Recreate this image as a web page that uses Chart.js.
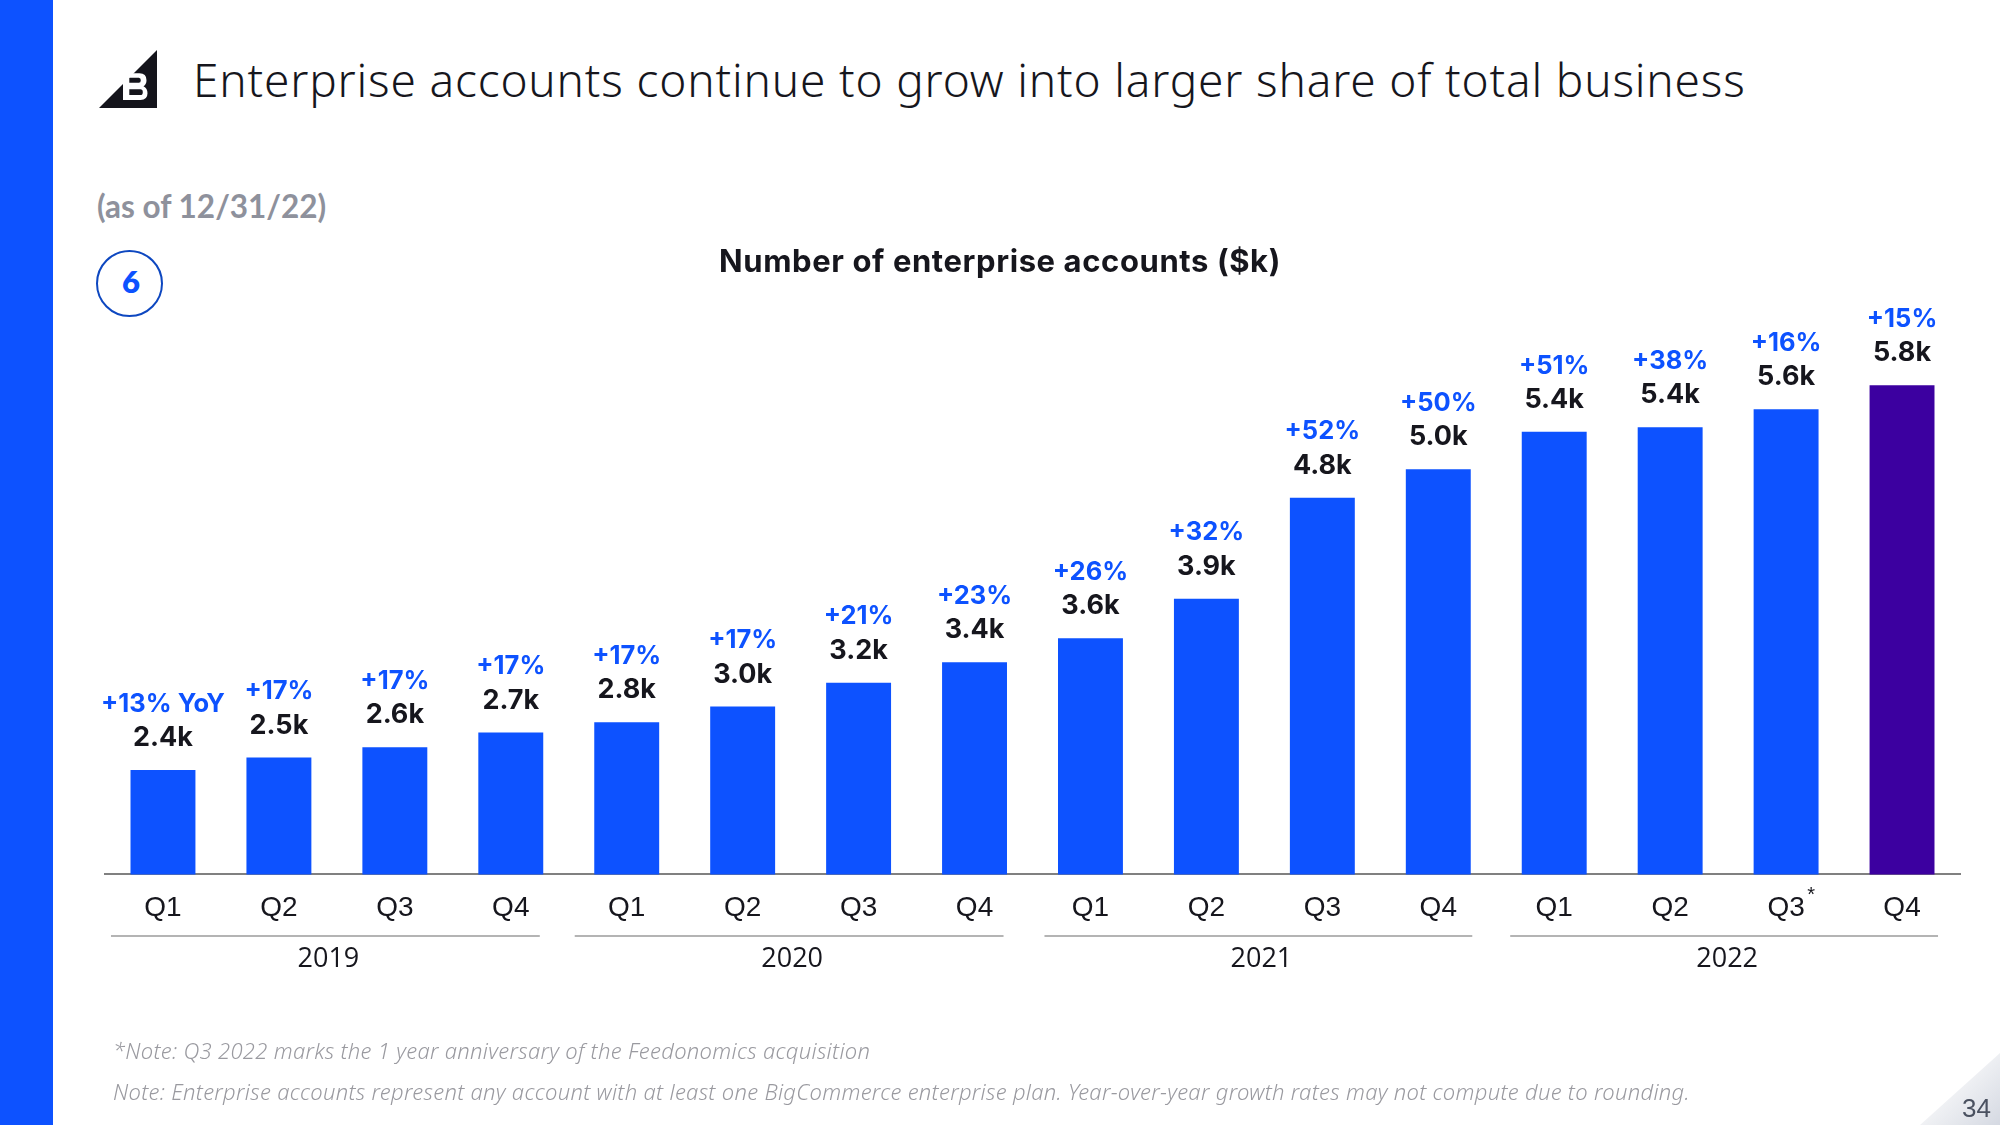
<!DOCTYPE html>
<html>
<head>
<meta charset="utf-8">
<title>Enterprise accounts</title>
<script src="https://cdn.jsdelivr.net/npm/chart.js@4"></script>
<style>
  html, body { margin: 0; padding: 0; background: #fff; }
  body { width: 2000px; height: 1125px; position: relative; overflow: hidden; }
  #myChart { position: absolute; left: 0; top: 0; }
  .band { position: absolute; left: 0; top: 0; width: 53px; height: 1125px; background: #0d52ff; }
  .txt { position: absolute; white-space: nowrap; line-height: 1; }
  #head { left: 193px; top: 48px; font: 300 46px "Noto Sans", sans-serif; color: #16161d; letter-spacing: .83px; }
  #asof { left: 97px; top: 187px; font: 700 31.5px Lato, sans-serif; color: #8e919c; }
  #ring { position: absolute; left: 96px; top: 250px; width: 63px; height: 63px; border: 2.5px solid #0d47c0; border-radius: 50%; }
  #six { left: 97px; width: 68px; text-align: center; top: 262px; font: 800 31px Lato, sans-serif; color: #0d52ff; }
  .note { left: 113px; font: italic 300 22px "Noto Sans", sans-serif; color: #9a9aa0; letter-spacing: .3px; }
  #note1 { top: 1035px; }
  #note2 { top: 1076px; }
  #corner { position: absolute; right: 0; bottom: 0; width: 80px; height: 72px; background: linear-gradient(135deg, #f4f5f7 40%, #d5d9e2 100%); clip-path: polygon(100% 0, 100% 100%, 0 100%); }
  #page { left: 1962px; top: 1093px; font: 26px "Liberation Sans", sans-serif; color: #4a5160; }
  #logo { position: absolute; left: 99px; top: 50px; }
</style>
</head>
<body>
<div class="band"></div>
<svg id="logo" width="58" height="58" viewBox="0 0 58 58">
  <polygon points="58,0 58,58 0,58" fill="#14141b"/>
  <path d="M24 23.300h16.500q7 0 7 7 0 4-3 6 4 2 4 7 0 6.700-7 6.700H24z M30.300 27.700v5h9.500q2 0 2-2.500t-2-2.500z M30.300 39.300v5.700h11q2.500 0 2.500-2.850t-2.500-2.850z" fill="#fff" fill-rule="evenodd"/>
</svg>
<div class="txt" id="head">Enterprise accounts continue to grow into larger share of total business</div>
<div class="txt" id="asof">(as of 12/31/22)</div>
<div id="ring"></div>
<div class="txt" id="six">6</div>
<canvas id="myChart" width="2000" height="1125"></canvas>
<div class="txt note" id="note1">*Note: Q3 2022 marks the 1 year anniversary of the Feedonomics acquisition</div>
<div class="txt note" id="note2">Note: Enterprise accounts represent any account with at least one BigCommerce enterprise plan. Year-over-year growth rates may not compute due to rounding.</div>
<div id="corner"></div>
<div class="txt" id="page">34</div>
<script>
const quarters = ['Q1','Q2','Q3','Q4','Q1','Q2','Q3','Q4','Q1','Q2','Q3','Q4','Q1','Q2','Q3','Q4'];
const accounts = [2.41,2.52,2.61,2.74,2.83,2.97,3.18,3.36,3.57,3.92,4.81,5.06,5.39,5.43,5.59,5.80];
const accountLabels = ['2.4k','2.5k','2.6k','2.7k','2.8k','3.0k','3.2k','3.4k','3.6k','3.9k','4.8k','5.0k','5.4k','5.4k','5.6k','5.8k'];
const growthLabels = ['+13% YoY','+17%','+17%','+17%','+17%','+17%','+21%','+23%','+26%','+32%','+52%','+50%','+51%','+38%','+16%','+15%'];
const years = ['2019','2020','2021','2022'];
const yearFirstBar = [0,4,8,12];
const starredBar = 14;
const chartTitle = 'Number of enterprise accounts ($k)';

const BLUE = '#0d52ff';
const PURPLE = '#3c00a0';

// growth and value labels above the bars, year brackets below the axis
const extras = {
  id: 'extras',
  afterDatasetsDraw(chart) {
    const ctx = chart.ctx;
    const x = chart.scales.x;
    const bars = chart.getDatasetMeta(0).data;
    ctx.save();
    ctx.textAlign = 'center';
    ctx.textBaseline = 'middle';

    // title is centred on the page, not on the plot area
    ctx.font = '700 31px Inter';
    ctx.letterSpacing = '0.6px';
    ctx.fillStyle = '#16161d';
    ctx.fillText(chartTitle, chart.width / 2, 263);
    ctx.letterSpacing = '0px';

    bars.forEach((bar, i) => {
      ctx.font = '700 27px Inter';
      ctx.fillStyle = '#16161d';
      ctx.fillText(accountLabels[i], bar.x, bar.y - 32);
      ctx.font = '700 25.5px Inter';
      ctx.fillStyle = BLUE;
      ctx.fillText(growthLabels[i], bar.x, bar.y - 66);
    });

    ctx.strokeStyle = '#b4b4b4';
    ctx.lineWidth = 2;
    ctx.font = '27px "Open Sans"';
    ctx.fillStyle = '#16161d';
    const leftGap = [52, 52, 46, 44];
    const rightGap = [29, 29, 34, 36];
    years.forEach((year, i) => {
      const a = x.getPixelForValue(yearFirstBar[i]) - leftGap[i];
      const b = x.getPixelForValue(yearFirstBar[i] + 3) + rightGap[i];
      ctx.beginPath();
      ctx.moveTo(a, 936);
      ctx.lineTo(b, 936);
      ctx.stroke();
      ctx.fillText(year, (a + b) / 2 + 3, 959);
    });

    ctx.font = '20px "Liberation Sans"';
    ctx.fillText('*', x.getPixelForValue(starredBar) + 25, 895);
    ctx.restore();
  }
};

const ctx = document.getElementById('myChart').getContext('2d');
const myChart = new Chart(ctx, {
  type: 'bar',
  data: {
    labels: quarters,
    datasets: [{
      data: accounts,
      backgroundColor: accounts.map((v, i) => i === accounts.length - 1 ? PURPLE : BLUE),
      barPercentage: 0.56,
      categoryPercentage: 1
    }]
  },
  options: {
    responsive: false,
    animation: false,
    layout: { padding: { left: 105, right: 40, top: 290, bottom: 183 } },
    plugins: {
      legend: { display: false },
      tooltip: { enabled: false }
    },
    scales: {
      x: {
        grid: { display: false, drawTicks: false },
        border: { color: '#808080', width: 2 },
        ticks: { color: '#16161d', font: { family: 'Liberation Sans', size: 28 }, padding: 17, maxRotation: 0, autoSkip: false }
      },
      y: { display: false, min: 1.49, max: 6.64 }
    }
  },
  plugins: [extras]
});
</script>
</body>
</html>
